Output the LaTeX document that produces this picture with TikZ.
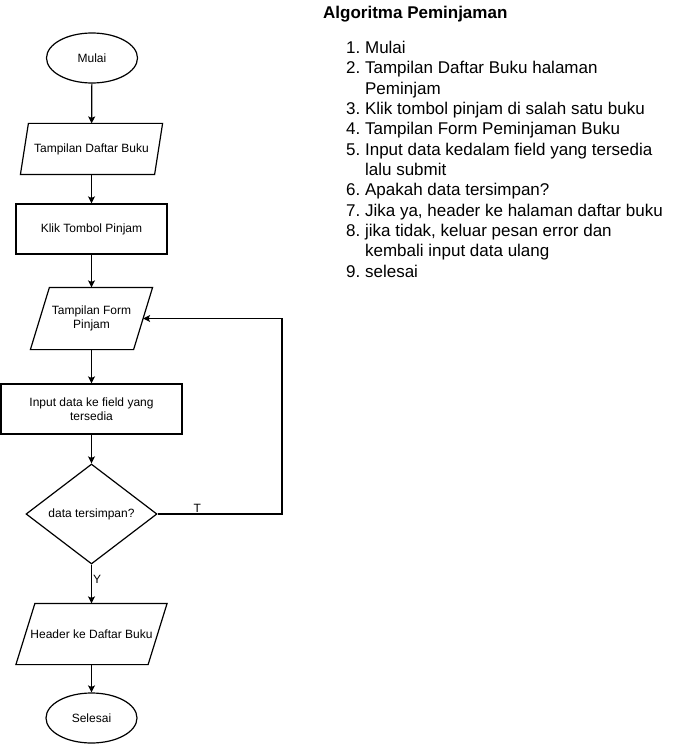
\documentclass[tikz,border=0pt]{standalone}
\usepackage{fontspec}
\setmainfont{Liberation Sans}
\usetikzlibrary{shapes.geometric, arrows.meta}

\tikzset{
  box/.style = {draw, line width = 1.2pt, inner sep = 0pt, align = center, font = \fontsize{12}{14.5}\selectfont},
  terminal/.style = {box, ellipse, minimum width = 91pt, minimum height = 50pt},
  process/.style = {box, rectangle, minimum height = 50pt},
  data/.style = {box, rectangle, draw = none},
  decision/.style = {box, diamond, minimum width = 131pt, minimum height = 100pt},
  edge/.style = {line width = 1.2pt, line join = miter},
  flow/.style = {edge, -{Stealth[length = 7pt, width = 7pt, inset = 1.5pt]}},
  lbl/.style = {font = \fontsize{12}{14}\selectfont, inner sep = 1pt}
}

\begin{document}
\begin{tikzpicture} [x = 1pt, y = -1pt]
\useasboundingbox (0, 0) rectangle (672, 746);

\node[terminal] (mulai) at (92, 58) {Mulai};
\node[data, minimum width = 133pt, minimum height = 50pt] (daftar) at (91.5, 149) {Tampilan Daftar Buku};
\node[process, minimum width = 151pt] (klik) at (91.5, 229) {Klik Tombol Pinjam};
\node[data, minimum width = 102pt, minimum height = 61pt] (form) at (91.5, 318.5) {Tampilan Form\\Pinjam};
\node[process, minimum width = 181pt] (input) at (91.5, 409) {Input data ke field yang\\tersedia};
\node[decision] (cek) at (91.5, 514) {data tersimpan?};
\node[data, minimum width = 131pt, minimum height = 60pt] (header) at (91.5, 634) {Header ke Daftar Buku};
\node[terminal] (selesai) at (91.5, 718) {Selesai};

% jajaran genjang
\draw[edge] ([xshift = 4pt] daftar.north west) -- ([xshift = 4pt] daftar.north east) -- ([xshift = -4pt] daftar.south east) -- ([xshift = -4pt] daftar.south west) -- cycle;
\draw[edge] ([xshift = 9.5pt] form.north west) -- ([xshift = 9.5pt] form.north east) -- ([xshift = -9.5pt] form.south east) -- ([xshift = -9.5pt] form.south west) -- cycle;
\draw[edge] ([xshift = 9.5pt] header.north west) -- ([xshift = 9.5pt] header.north east) -- ([xshift = -9.5pt] header.south east) -- ([xshift = -9.5pt] header.south west) -- cycle;

\coordinate (balik) at (282, 514);

\draw[flow] (mulai) -- (daftar);
\draw[flow] (daftar) -- (klik);
\draw[flow] (klik) -- (form);
\draw[flow] (form) -- (input);
\draw[flow] (input) -- (cek);
\draw[flow] (cek) -- node[lbl, pos = 0.37, right] {Y} (header);
\draw[flow] (header) -- (selesai);
\draw[flow] (cek.east) -- node[lbl, pos = 0.32, above] {T} (balik) |- (form.east);

% algoritma
\node[anchor = base west, inner sep = 0pt, font = \fontsize{17}{20}\bfseries] (judul) at (323, 18.3) {Algoritma Peminjaman};
\node[anchor = base west, inner sep = 0pt, font = \fontsize{17}{20.36}\selectfont] (langkah) at (346, 53.3) {%
\begin{tabular}[t]{@{}l@{\ }l@{}}
1. & Mulai\\
2. & Tampilan Daftar Buku halaman\\
   & Peminjam\\
3. & Klik tombol pinjam di salah satu buku\\
4. & Tampilan Form Peminjaman Buku\\
5. & Input data kedalam field yang tersedia\\
   & lalu submit\\
6. & Apakah data tersimpan?\\
7. & Jika ya, header ke halaman daftar buku\\
8. & jika tidak, keluar pesan error dan\\
   & kembali input data ulang\\
9. & selesai
\end{tabular}};
\end{tikzpicture}
\end{document}
